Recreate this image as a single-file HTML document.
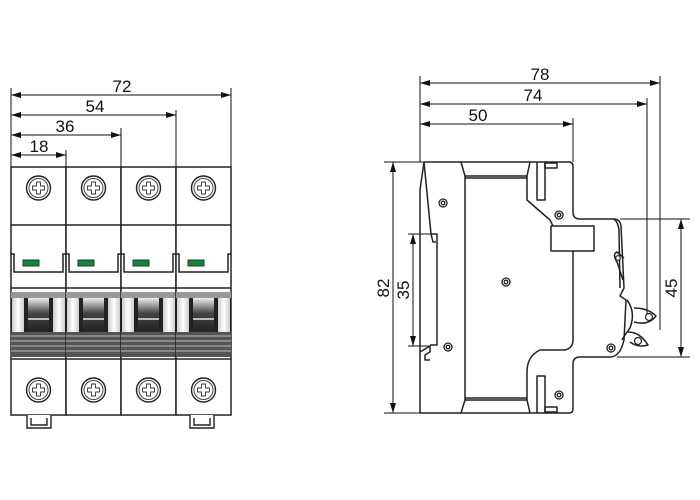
<!DOCTYPE html>
<html><head><style>html,body{margin:0;padding:0;background:#fff}svg{display:block}</style></head>
<body>
<svg width="700" height="500" viewBox="0 0 700 500" xmlns="http://www.w3.org/2000/svg" font-family="Liberation Sans, DejaVu Sans, sans-serif">
<defs>
<marker id="a" viewBox="0 0 10 6" refX="10" refY="3" markerWidth="11" markerHeight="6" orient="auto-start-reverse" markerUnits="userSpaceOnUse"><path d="M0,0 L10,3 L0,6 Z" fill="#111"/></marker>
<linearGradient id="dk" x1="0" y1="0" x2="0" y2="1"><stop offset="0" stop-color="#eee"/><stop offset="0.45" stop-color="#444"/><stop offset="1" stop-color="#222"/></linearGradient>
<linearGradient id="pl" x1="0" y1="0" x2="1" y2="0"><stop offset="0" stop-color="#ccc"/><stop offset="0.5" stop-color="#fff"/><stop offset="1" stop-color="#ccc"/></linearGradient>
<g id="scr"><circle r="12" fill="#fff" stroke="#222" stroke-width="1.4"/><circle r="9.5" fill="none" stroke="#444" stroke-width="1"/><path d="M-2,-6 h4 v4 h4 v4 h-4 v4 h-4 v-4 h-4 v-4 h4 z" fill="none" stroke="#333" stroke-width="0.9" stroke-linejoin="round"/></g>
<g id="pole">
<rect x="0" y="167" width="55" height="248" fill="#fff" stroke="#222" stroke-width="1.5"/>
<line x1="0" y1="225" x2="55" y2="225" stroke="#222" stroke-width="1.5"/>
<path d="M0,254 h3 v18 h49 v-18 h3" fill="none" stroke="#222" stroke-width="1.5"/>
<rect x="12" y="260" width="16" height="6" fill="#0a8a3a" stroke="#333" stroke-width="1"/>
<line x1="0" y1="288" x2="55" y2="288" stroke="#222" stroke-width="1.5"/>
<rect x="0" y="292" width="55" height="6" fill="#999"/>
<rect x="0" y="298" width="55" height="34" fill="#222"/>
<rect x="1" y="298" width="12" height="34" fill="url(#pl)"/>
<rect x="42" y="298" width="12" height="34" fill="url(#pl)"/>
<rect x="17" y="298" width="21" height="34" fill="url(#dk)"/>
<rect x="17" y="318" width="21" height="2" fill="#bbb"/>
<rect x="0" y="332" width="55" height="25" fill="#555"/>
<g stroke="#bbb" stroke-width="1"><line x1="0" y1="336" x2="55" y2="336"/><line x1="0" y1="341" x2="55" y2="341"/><line x1="0" y1="346" x2="55" y2="346"/><line x1="0" y1="351" x2="55" y2="351"/></g>
<line x1="0" y1="359" x2="55" y2="359" stroke="#222" stroke-width="1.5"/>
<use href="#scr" x="27.5" y="188"/>
<use href="#scr" x="27.5" y="390"/>
</g>
</defs>

<g stroke="#111" stroke-width="1" fill="none">
<line x1="11" y1="88" x2="11" y2="167"/>
<line x1="66" y1="150" x2="66" y2="167"/>
<line x1="121" y1="128" x2="121" y2="167"/>
<line x1="176" y1="110" x2="176" y2="167"/>
<line x1="231" y1="88" x2="231" y2="167"/>
<line x1="11" y1="95" x2="231" y2="95" marker-start="url(#a)" marker-end="url(#a)"/>
<line x1="11" y1="115" x2="176" y2="115" marker-start="url(#a)" marker-end="url(#a)"/>
<line x1="11" y1="135" x2="121" y2="135" marker-start="url(#a)" marker-end="url(#a)"/>
<line x1="11" y1="155" x2="66" y2="155" marker-start="url(#a)" marker-end="url(#a)"/>
</g>
<g font-size="17" fill="#111" text-anchor="middle">
<text x="122" y="92">72</text><text x="95" y="112">54</text><text x="65" y="132">36</text><text x="39" y="152">18</text>
</g>
<use href="#pole" x="11"/><use href="#pole" x="66"/><use href="#pole" x="121"/><use href="#pole" x="176"/>
<g fill="#fff" stroke="#222" stroke-width="1.4">
<path d="M27,415 v13 h24 v-13"/><path d="M31,418 v7 h16 v-7"/>
<path d="M190,415 v13 h24 v-13"/><path d="M194,418 v7 h16 v-7"/>
</g>

<g stroke="#111" stroke-width="1" fill="none">
<line x1="420" y1="76" x2="420" y2="162"/>
<line x1="660" y1="76" x2="660" y2="330"/>
<line x1="647" y1="98" x2="647" y2="320"/>
<line x1="573" y1="118" x2="573" y2="162"/>
<line x1="420" y1="83" x2="660" y2="83" marker-start="url(#a)" marker-end="url(#a)"/>
<line x1="420" y1="104" x2="647" y2="104" marker-start="url(#a)" marker-end="url(#a)"/>
<line x1="420" y1="124" x2="573" y2="124" marker-start="url(#a)" marker-end="url(#a)"/>
<line x1="384" y1="162" x2="424" y2="162"/>
<line x1="384" y1="413" x2="424" y2="413"/>
<line x1="393" y1="162" x2="393" y2="413" marker-start="url(#a)" marker-end="url(#a)"/>
<line x1="408" y1="234" x2="437" y2="234"/>
<line x1="408" y1="346" x2="430" y2="346"/>
<line x1="413" y1="234" x2="413" y2="346" marker-start="url(#a)" marker-end="url(#a)"/>
<line x1="620" y1="219" x2="690" y2="219"/>
<line x1="617" y1="357" x2="690" y2="357"/>
<line x1="681" y1="219" x2="681" y2="357" marker-start="url(#a)" marker-end="url(#a)"/>
</g>
<g font-size="17" fill="#111" text-anchor="middle">
<text x="540" y="80">78</text><text x="533" y="101">74</text><text x="478" y="121">50</text>
<text transform="translate(389,288) rotate(-90)">82</text>
<text transform="translate(409,290) rotate(-90)">35</text>
<text transform="translate(677,288) rotate(-90)">45</text>
</g>

<g stroke="#222" stroke-width="1.5" fill="none" stroke-linejoin="round">
<path d="M424,162 H569 Q573,162 573,166 V212 Q573,219 580,219 H614 Q620,219 621,226 L624,288 L620,296 L626,300 L624,340 Q620,357 610,357 H580 Q573,357 573,364 V409 Q573,413 569,413 H420 V345"/>
<path d="M424,162 L420,190 L420,345"/>
<path d="M424,162 L431,234"/>
<path d="M431,234 H437 V345 H430"/>
<path d="M431,234 L433,242 L436,242"/>
<path d="M420,352 L430,346 V352 L425,355 V360 H430"/>
<path d="M461,162 L465,176 H527 L530,162"/>
<line x1="465" y1="176" x2="465" y2="400"/>
<path d="M465,400 L461,413 M465,400 H527 L530,413"/>
<line x1="465" y1="178" x2="527" y2="178"/>
<line x1="465" y1="398" x2="527" y2="398"/>
<path d="M527,176 V200 L550,220 L553,226"/>
<path d="M537,162 V200 H545 V162"/>
<rect x="545" y="163" width="12" height="5"/>
<rect x="551" y="226" width="43" height="25"/>
<line x1="573" y1="251" x2="573" y2="340"/>
<path d="M573,340 Q573,348 565,350 L540,350 Q527,356 527,372 V400"/>
<path d="M537,413 V376 H545 V413"/>
<rect x="545" y="407" width="12" height="5"/>
<path d="M614,219 Q618,222 619,230 L620,288"/>
<path d="M624,258 L617,252 Q612,254 617,262 L623,280"/>
<path d="M627,300 Q636,312 630,328 Q624,336 622,340"/>
<path d="M634,308 Q648,308 656,316 Q648,326 634,322"/>
<path d="M628,332 Q640,332 648,345 Q638,348 630,342"/>
</g>
<g fill="#fff" stroke="#222" stroke-width="1.2">
<circle cx="618" cy="258" r="2.3"/>
<circle cx="649" cy="317" r="3.5"/>
<circle cx="638" cy="341" r="3.5"/>
</g>
<g fill="#fff" stroke="#222" stroke-width="1.3">
<circle cx="443" cy="203" r="4"/><circle cx="443" cy="203" r="1.8"/>
<circle cx="448" cy="347" r="4"/><circle cx="448" cy="347" r="1.8"/>
<circle cx="506" cy="282" r="4"/><circle cx="506" cy="282" r="1.8"/>
<circle cx="559" cy="215" r="4"/><circle cx="559" cy="215" r="1.8"/>
<circle cx="611" cy="348" r="4"/><circle cx="611" cy="348" r="1.8"/>
<circle cx="559" cy="395" r="4"/><circle cx="559" cy="395" r="1.8"/>
</g>
</svg>
</body></html>
